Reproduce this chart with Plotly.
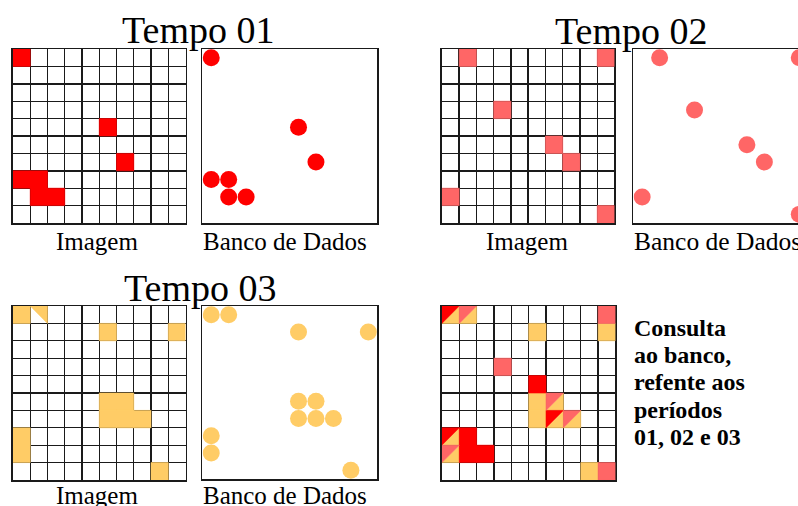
import plotly.graph_objects as go

# body margin is removed by the post script; the figure runs a little past
# the right edge of the 798px window so the last panel is cut as in the reference
OFF = 0
W, H = 810, 506

# ---- data: occupied cells (row, col) on a 10x10 grid ----
tempo01_cells = [(0, 0), (4, 5), (6, 6), (7, 0), (7, 1), (8, 1), (8, 2)]
tempo02_cells = [(0, 1), (0, 9), (3, 3), (5, 6), (6, 7), (8, 0), (9, 9)]
tempo03_cells = [(0, 0), (0, 1), (1, 5), (1, 9), (5, 5), (5, 6), (6, 5), (6, 6),
                 (6, 7), (7, 0), (8, 0), (9, 8)]
tempo03_partial = [(0, 1)]   # drawn as half cell in the Tempo 03 image

titles = ["Tempo 01", "Tempo 02", "Tempo 03"]
label_img = "Imagem"
label_db = "Banco de Dados"
consulta_lines = ["Consulta", "ao banco,", "refente aos", "períodos", "01, 02 e 03"]

RED = "#FF0000"
PINK = "#FF6666"
YEL = "#FFCC66"
GRIDC = "#1a1a1a"
SERIF = "Liberation Serif, Times New Roman, serif"


def full(r, c):
    return [c, c + 1, c + 1, c, c, None], [r, r, r + 1, r + 1, r, None]


def tri_ul(r, c):
    return [c, c + 1, c, c, None], [r, r, r + 1, r, None]


def tri_lr(r, c):
    return [c + 1, c + 1, c, c + 1, None], [r, r + 1, r + 1, r, None]


def tri_ur(r, c):
    return [c, c + 1, c + 1, c, None], [r, r, r + 1, r, None]


def poly_trace(pieces, color, ax):
    xs, ys = [], []
    for px, py in pieces:
        xs += px
        ys += py
    return go.Scatter(x=xs, y=ys, mode="lines", fill="toself", fillcolor=color,
                      line=dict(color=color, width=0.6), hoverinfo="skip",
                      showlegend=False, xaxis="x" + ax, yaxis="y" + ax)


def dots(cells, color, ax):
    return go.Scatter(x=[c + 0.5 for r, c in cells], y=[r + 0.5 for r, c in cells],
                      mode="markers", marker=dict(size=17, color=color),
                      hoverinfo="skip", showlegend=False,
                      xaxis="x" + ax, yaxis="y" + ax)


traces = []
traces.append(poly_trace([full(r, c) for r, c in tempo01_cells], RED, ""))
traces.append(dots(tempo01_cells, RED, "2"))
traces.append(poly_trace([full(r, c) for r, c in tempo02_cells], PINK, "3"))
traces.append(dots(tempo02_cells, PINK, "4"))
pcs = []
for r, c in tempo03_cells:
    pcs.append(tri_ur(r, c) if (r, c) in tempo03_partial else full(r, c))
traces.append(poly_trace(pcs, YEL, "5"))
traces.append(dots(tempo03_cells, YEL, "6"))

# combined grid
red_p, pink_p, yel_p = [], [], []
allcells = sorted(set(tempo01_cells) | set(tempo02_cells) | set(tempo03_cells))
for cell in allcells:
    r, c = cell
    in1, in2, in3 = cell in tempo01_cells, cell in tempo02_cells, cell in tempo03_cells
    if in3 and (in1 or in2):
        (red_p if in1 else pink_p).append(tri_ul(r, c))
        yel_p.append(tri_lr(r, c))
    elif in1:
        red_p.append(full(r, c))
    elif in2:
        pink_p.append(full(r, c))
    else:
        yel_p.append(full(r, c))
traces.append(poly_trace(yel_p, YEL, "7"))
traces.append(poly_trace(red_p, RED, "7"))
traces.append(poly_trace(pink_p, PINK, "7"))

fig = go.Figure(traces)


def xd(a, b):
    return [(a - OFF) / W, min(1.0, (b - OFF) / W)]


def yd(top, bot):
    return [1 - (bot - OFF) / H, 1 - (top - OFF) / H]


boxes = {
    "": ((13, 186), (49, 223), "grid"),
    "2": ((203, 378), (49, 223), "db"),
    "3": ((443, 616), (49, 223), "grid"),
    "4": ((635, 810), (49, 223), "db"),
    "5": ((13, 186), (306, 480), "grid"),
    "6": ((203, 378), (306, 479), "db"),
    "7": ((443, 617), (306, 480), "grid"),
}

lay = {}
for ax, ((x0, x1), (y0, y1), kind) in boxes.items():
    isgrid = kind == "grid"
    common = dict(showticklabels=False, ticks="", zeroline=False,
                  showline=True, linecolor=GRIDC, linewidth=1.5,
                  showgrid=isgrid, gridcolor=GRIDC, gridwidth=1.4,
                  dtick=1, tick0=0, layer="below traces", fixedrange=True)
    lay["xaxis" + ax] = dict(common, domain=xd(x0, x1), range=[0, 10],
                             mirror=True, anchor="y" + ax)
    lay["yaxis" + ax] = dict(common, domain=yd(y0, y1), range=[10, 0],
                             mirror=True, anchor="x" + ax)

ann = []


def text(t, x, y, size, anchor="center", bold=False):
    ann.append(dict(text=("<b>%s</b>" % t) if bold else t,
                    x=(x - OFF) / W, y=1 - (y - OFF) / H,
                    xref="paper", yref="paper", xanchor=anchor, yanchor="middle",
                    showarrow=False, font=dict(family=SERIF, size=size, color="black")))


text(titles[0], 198, 30, 38)
text(titles[1], 633, 31, 38)
text(titles[2], 200, 288, 38)
text(label_img, 97, 241.5, 25)
text(label_db, 285.5, 241.5, 25)
text(label_img, 528, 241.5, 25)
text(label_db, 634, 241.5, 25.5, anchor="left")
text(label_img, 97, 495, 25)
text(label_db, 285.5, 495, 25)
for i, line in enumerate(consulta_lines):
    text(line, 634, [336, 363, 390, 418, 445][i] - 8, 24, anchor="left", bold=True)

fig.update_layout(width=W, height=H, margin=dict(l=0, r=0, t=0, b=0),
                  paper_bgcolor="white", plot_bgcolor="white",
                  annotations=ann, **lay)

fig.write_html("out.html",
               config={"displayModeBar": False, "staticPlot": True},
               post_script="document.body.style.margin='0';"
                           "document.documentElement.style.overflow='hidden';"
                           "document.body.style.overflow='hidden';")
